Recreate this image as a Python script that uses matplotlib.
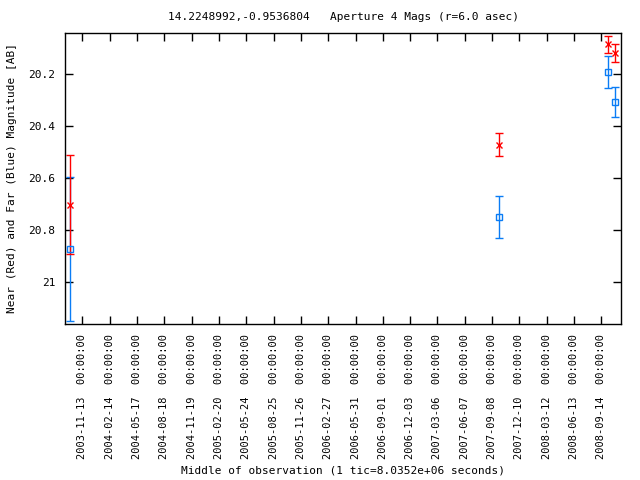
import pandas as pd
import matplotlib
matplotlib.use("Agg")
import matplotlib.pyplot as plt

# observation dates and magnitudes
obs_dates = ["2003-10-03", "2007-10-02", "2008-10-08", "2008-10-31"]
near_mag = [20.703, 20.472, 20.086, 20.120]
near_err = [0.189, 0.045, 0.033, 0.034]
far_mag = [20.874, 20.750, 20.192, 20.307]
far_err = [0.277, 0.080, 0.062, 0.058]

tick_labels = [
    "2003-11-13", "2004-02-14", "2004-05-17", "2004-08-18", "2004-11-19",
    "2005-02-20", "2005-05-24", "2005-08-25", "2005-11-26", "2006-02-27",
    "2006-05-31", "2006-09-01", "2006-12-03", "2007-03-06", "2007-06-07",
    "2007-09-08", "2007-12-10", "2008-03-12", "2008-06-13", "2008-09-14",
]
y_ticks = [20.2, 20.4, 20.6, 20.8, 21.0]

x = pd.to_datetime(obs_dates)
ticks = pd.to_datetime(tick_labels)

plt.rcParams["font.family"] = "DejaVu Sans Mono"
plt.rcParams["font.size"] = 8

fig = plt.figure(figsize=(6.4, 4.8), dpi=100)
ax = fig.add_axes([0.102, 0.325, 0.868, 0.607])

ax.errorbar(x, far_mag, yerr=far_err, fmt="s", color="#0a7cf5", mfc="none",
            ms=4, mew=1, elinewidth=1, capsize=3, capthick=1)
ax.errorbar(x, near_mag, yerr=near_err, fmt="x", color="red",
            ms=4, mew=1, elinewidth=1, capsize=3, capthick=1)

ax.set_xlim(pd.Timestamp("2003-09-16"), pd.Timestamp("2008-11-19"))
ax.set_ylim(21.163, 20.041)

ax.set_xticks(ticks)
ax.set_xticklabels([t + "  00:00:00" for t in tick_labels], rotation=90, fontsize=7.5)
ax.set_yticks(y_ticks)
ax.set_yticklabels(["%g" % v for v in y_ticks])

ax.tick_params(direction="in", length=6, width=1, top=True, right=True, pad=7)
for s in ax.spines.values():
    s.set_linewidth(1)

ax.set_title("14.2248992,-0.9536804   Aperture 4 Mags (r=6.0 asec)", fontsize=8, pad=9)
ax.set_xlabel("Middle of observation (1 tic=8.0352e+06 seconds)", labelpad=5)
ax.set_ylabel("Near (Red) and Far (Blue) Magnitude [AB]", labelpad=8)

fig.savefig("out.png", dpi=100)
